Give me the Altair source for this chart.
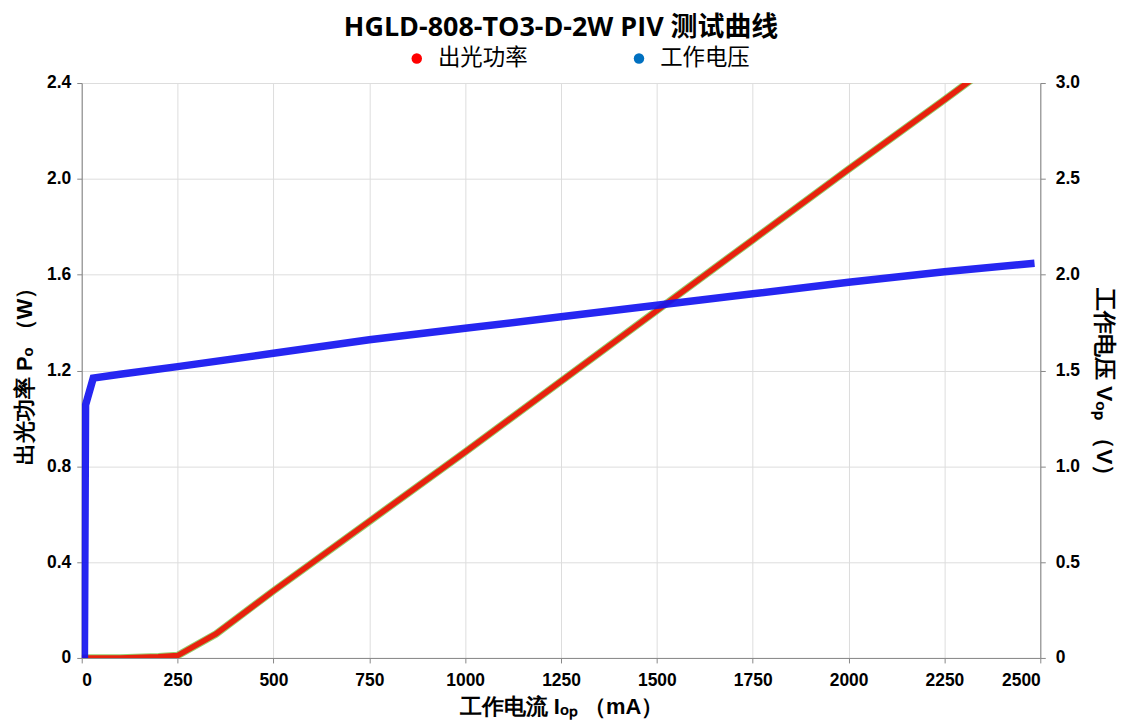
import altair as alt
import pandas as pd

# Optical power (W) vs current (mA)
p_current = [0, 100, 200, 250, 350, 500, 750, 1000, 1250, 1500, 1750, 2000, 2250, 2330]
p_power = [0, 0.0, 0.005, 0.01, 0.1, 0.28, 0.57, 0.86, 1.155, 1.45, 1.745, 2.04, 2.33, 2.425]

# Operating voltage (V) vs current (mA)
v_current = [0, 7, 10, 30, 100, 250, 500, 750, 1000, 1250, 1500, 1750, 2000, 2250, 2485]
v_voltage = [0, 0, 1.32, 1.46, 1.48, 1.52, 1.59, 1.66, 1.72, 1.78, 1.84, 1.90, 1.96, 2.015, 2.06]

series = ["出光功率", "工作电压"]
legend_colors = ["#ff0000", "#0070c0"]

dfp = pd.DataFrame({"I": p_current, "P": p_power})
dfv = pd.DataFrame({"I": v_current, "V": v_voltage})
dfl = pd.DataFrame({"s": series})

FONT = "'Open Sans', 'Noto Sans CJK SC', sans-serif"
CJK = "'Noto Sans CJK SC', sans-serif"

x = alt.X("I:Q", scale=alt.Scale(domain=[0, 2500], nice=False),
          axis=alt.Axis(values=list(range(0, 2501, 250)), format="d", title="工作电流 Iₒₚ （mA）",
                        labelFontSize=17.5, labelFontWeight="bold", titleFontSize=22,
                        titleFontWeight="bold", labelPadding=9, titlePadding=7,
                        tickSize=5, grid=True))

left_axis = alt.Axis(values=[0, 0.4, 0.8, 1.2, 1.6, 2.0, 2.4],
                     labelExpr="datum.value == 0 ? '0' : format(datum.value, '.1f')",
                     title="出光功率 Pₒ （W）", labelFontSize=17.5, labelFontWeight="bold",
                     titleFontSize=22, titleFontWeight="bold", tickSize=5, labelPadding=6,
                     titlePadding=10, grid=True)
right_axis = alt.Axis(values=[0, 0.5, 1.0, 1.5, 2.0, 2.5, 3.0],
                      labelExpr="datum.value == 0 ? '0' : format(datum.value, '.1f')",
                      title="工作电压 Vₒₚ （V）", labelFontSize=17.5, labelFontWeight="bold",
                      titleFontSize=23, titleFontWeight="bold", tickSize=5, labelPadding=10,
                      titlePadding=12, titleY=305, grid=False, orient="right")

green_edge = alt.Chart(dfp).mark_line(color="#7cc04a", strokeWidth=7.5, clip=True, opacity=0.8).encode(
    x=x, y=alt.Y("P:Q", scale=alt.Scale(domain=[0, 2.4], nice=False), axis=left_axis))
red = alt.Chart(dfp).mark_line(color="#e8210e", strokeWidth=5.5, clip=True).encode(
    x=x, y=alt.Y("P:Q", scale=alt.Scale(domain=[0, 2.4], nice=False), axis=left_axis))
power = alt.layer(green_edge, red)

blue = alt.Chart(dfv).mark_line(color="#1414f0", strokeWidth=7.5, clip=True, opacity=0.92).encode(
    x=x, y=alt.Y("V:Q", scale=alt.Scale(domain=[0, 3.0], nice=False), axis=right_axis))

legend_layer = alt.Chart(dfl).mark_point(opacity=0, filled=True).encode(
    color=alt.Color("s:N", scale=alt.Scale(domain=series, range=legend_colors),
                    legend=alt.Legend(title=None, orient="none", direction="horizontal",
                                      legendX=325, legendY=-36,
                                      symbolType="circle", symbolSize=110, symbolOpacity=1,
                                      labelFontSize=22.5, labelFont=CJK, columnPadding=100,
                                      labelOffset=10)))

chart = alt.layer(power, blue, legend_layer).resolve_scale(y="independent").properties(
    width=962, height=577,
    title=alt.TitleParams("HGLD-808-TO3-D-2W PIV 测试曲线", fontSize=27, fontWeight="bold",
                          font=FONT, anchor="middle", offset=5),
).configure_view(stroke="#333333", strokeWidth=1.5).configure_axis(
    gridColor="#8f8f8f", gridWidth=1, domainColor="#333333", domainWidth=1.5,
    tickColor="#333333", labelColor="#111111", titleColor="#111111",
    labelFont=FONT, titleFont=FONT
).configure(background="white")

chart.save("out.html", embed_options={"renderer": "svg", "actions": False})
